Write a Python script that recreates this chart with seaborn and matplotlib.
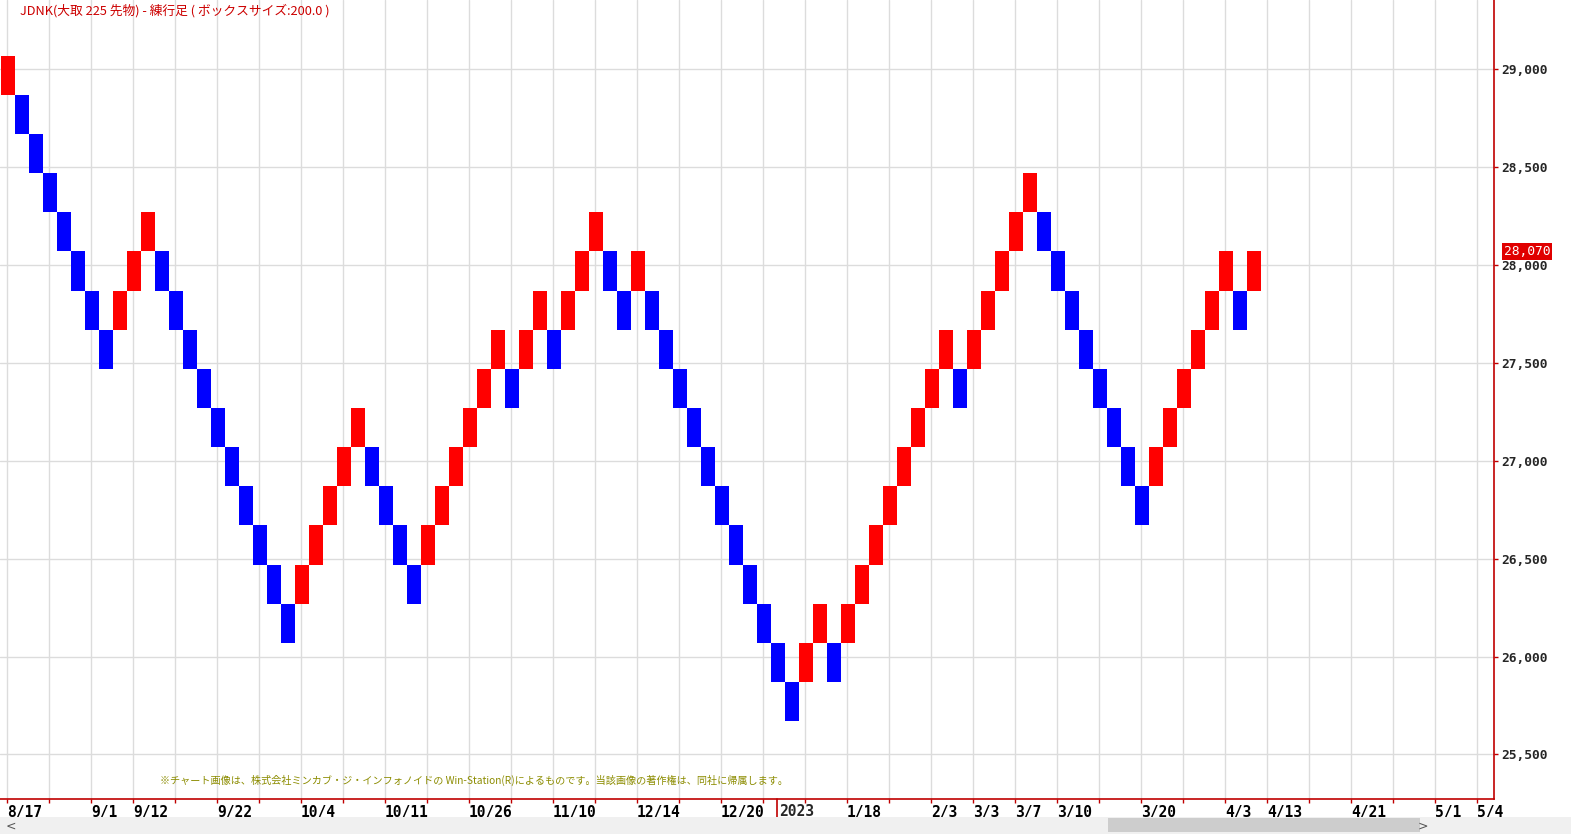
import matplotlib
matplotlib.use("Agg")
import matplotlib.pyplot as plt
import matplotlib.ticker as mticker
from matplotlib.patches import Rectangle
import matplotlib.transforms as mtrans
import pandas as pd
import seaborn as sns

# renko bricks (box size 200): lower edge of each brick and its direction
brick_low = [28870, 28670, 28470, 28270, 28070, 27870, 27670, 27470, 27670, 27870,
             28070, 27870, 27670, 27470, 27270, 27070, 26870, 26670, 26470, 26270,
             26070, 26270, 26470, 26670, 26870, 27070, 26870, 26670, 26470, 26270,
             26470, 26670, 26870, 27070, 27270, 27470, 27270, 27470, 27670, 27470,
             27670, 27870, 28070, 27870, 27670, 27870, 27670, 27470, 27270, 27070,
             26870, 26670, 26470, 26270, 26070, 25870, 25670, 25870, 26070, 25870,
             26070, 26270, 26470, 26670, 26870, 27070, 27270, 27470, 27270, 27470,
             27670, 27870, 28070, 28270, 28070, 27870, 27670, 27470, 27270, 27070,
             26870, 26670, 26870, 27070, 27270, 27470, 27670, 27870, 27670, 27870]
brick_dir = ["up"] + ["down"] * 7 + ["up"] * 3 + ["down"] * 10 + ["up"] * 5 + \
            ["down"] * 4 + ["up"] * 6 + ["down", "up", "up", "down", "up", "up", "up",
            "down", "down", "up"] + ["down"] * 11 + ["up", "up", "down"] + ["up"] * 8 + \
            ["down"] + ["up"] * 5 + ["down"] * 8 + ["up"] * 6 + ["down", "up"]
box_size = 200
last_price = 28070

price_ticks = [25500, 26000, 26500, 27000, 27500, 28000, 28500, 29000]
# one label per vertical gridline (every 3 bricks), blank where none is shown
date_labels = ["8/17", "", "9/1", "9/12", "", "9/22", "", "10/4", "", "10/11",
               "", "10/26", "", "11/10", "", "12/14", "", "12/20", "", "",
               "1/18", "", "2/3", "3/3", "3/7", "3/10", "", "3/20", "", "4/3",
               "4/13", "", "4/21", "", "5/1", "5/4"]
year_label = "2023"
year_pos = 55.43

title = "JDNK(大取 225 先物) - 練行足 ( ボックスサイズ:200.0 )"
footer = "※チャート画像は、株式会社ミンカブ・ジ・インフォノイドの Win-Station(R)によるものです。当該画像の著作権は、同社に帰属します。"

sns.set_theme(style="white")
plt.rcParams['font.family'] = ['Noto Sans CJK JP', 'DejaVu Sans']

df = pd.DataFrame({"brick": range(len(brick_low)), "low": brick_low, "dir": brick_dir})
df["color"] = df["dir"].map({"up": "#ff0000", "down": "#0000ff"})

W, H = 1571, 834
fig = plt.figure(figsize=(W / 100, H / 100), dpi=100)
fig.patch.set_facecolor("white")
ax = fig.add_axes([0, 35 / H, 1494 / W, 799 / H])
ax.set_facecolor("white")

ax.bar(df["brick"], box_size, bottom=df["low"], width=1, align="edge",
       color=df["color"], linewidth=0, zorder=3)

ax.set_xlim(-1 / 14, 1493 / 14)
ax.set_ylim(25272, 29355)

grid_x = [0.43 + 3 * k for k in range(len(date_labels))]
ax.set_xticks(grid_x)
ax.set_xticklabels(date_labels, family="DejaVu Sans Mono", fontweight="bold",
                   fontsize=10.5, color="black", ha="left")
for lbl in ax.get_xticklabels():
    lbl.set_transform(lbl.get_transform() + mtrans.ScaledTranslation(2 / 100, 0, fig.dpi_scale_trans))

ax.yaxis.tick_right()
ax.set_yticks(price_ticks)
ax.yaxis.set_major_formatter(mticker.FuncFormatter(lambda v, p: f"{int(v):,}"))
for lbl in ax.get_yticklabels():
    lbl.set_family("DejaVu Sans Mono")
    lbl.set_fontweight("bold")
    lbl.set_fontsize(9.3)

ax.tick_params(axis="x", direction="out", length=3, width=1, color="#c00000", pad=1, bottom=True)
ax.tick_params(axis="y", direction="out", length=3, width=1, color="#c00000", pad=2.5, right=True, left=False)
ax.grid(True, color="#dcdcdc", linewidth=1, zorder=0)
ax.set_axisbelow(True)

for s in ["top", "left"]:
    ax.spines[s].set_visible(False)
for s in ["right", "bottom"]:
    ax.spines[s].set_color("#c00000")
    ax.spines[s].set_linewidth(1.2)

# year separator below the axis
ax.plot([year_pos, year_pos], [0, -0.024], color="#c00000", linewidth=1.2,
        transform=ax.get_xaxis_transform(), clip_on=False)
ax.text(year_pos + 0.15, -0.006, year_label, transform=ax.get_xaxis_transform(),
        ha="left", va="top", family="DejaVu Sans Mono", fontweight="bold", fontsize=10.5)

# last price tag
ax.text(1.0065, last_price, f"{last_price:,}", transform=ax.get_yaxis_transform(),
        ha="left", va="center", family="DejaVu Sans Mono", fontsize=9.3, color="white",
        clip_on=False, bbox=dict(boxstyle="square,pad=0.12", facecolor="#e00000", edgecolor="none"))

fig.text(20 / W, 1 - 11 / H, title, ha="left", va="center", fontsize=9.2, color="#cc0000")
ax.text(160 / 1494, 1 - 780 / 799, footer, transform=ax.transAxes,
        ha="left", va="center", fontsize=7.3, color="#8c8c00")

# scrollbar strip at the bottom
fig.patches.append(Rectangle((0, 0), 1, 17 / H, transform=fig.transFigure,
                             facecolor="#f0f0f0", edgecolor="none", zorder=0))
fig.patches.append(Rectangle((1108 / W, 2 / H), 312 / W, 14 / H, transform=fig.transFigure,
                             facecolor="#cdcdcd", edgecolor="none", zorder=1))
fig.text(6 / W, 8 / H, "<", fontsize=9, color="#555555", va="center", family="DejaVu Sans")
fig.text(1418 / W, 8 / H, ">", fontsize=9, color="#555555", va="center", family="DejaVu Sans")

fig.savefig("out.png", dpi=100, facecolor="white")
